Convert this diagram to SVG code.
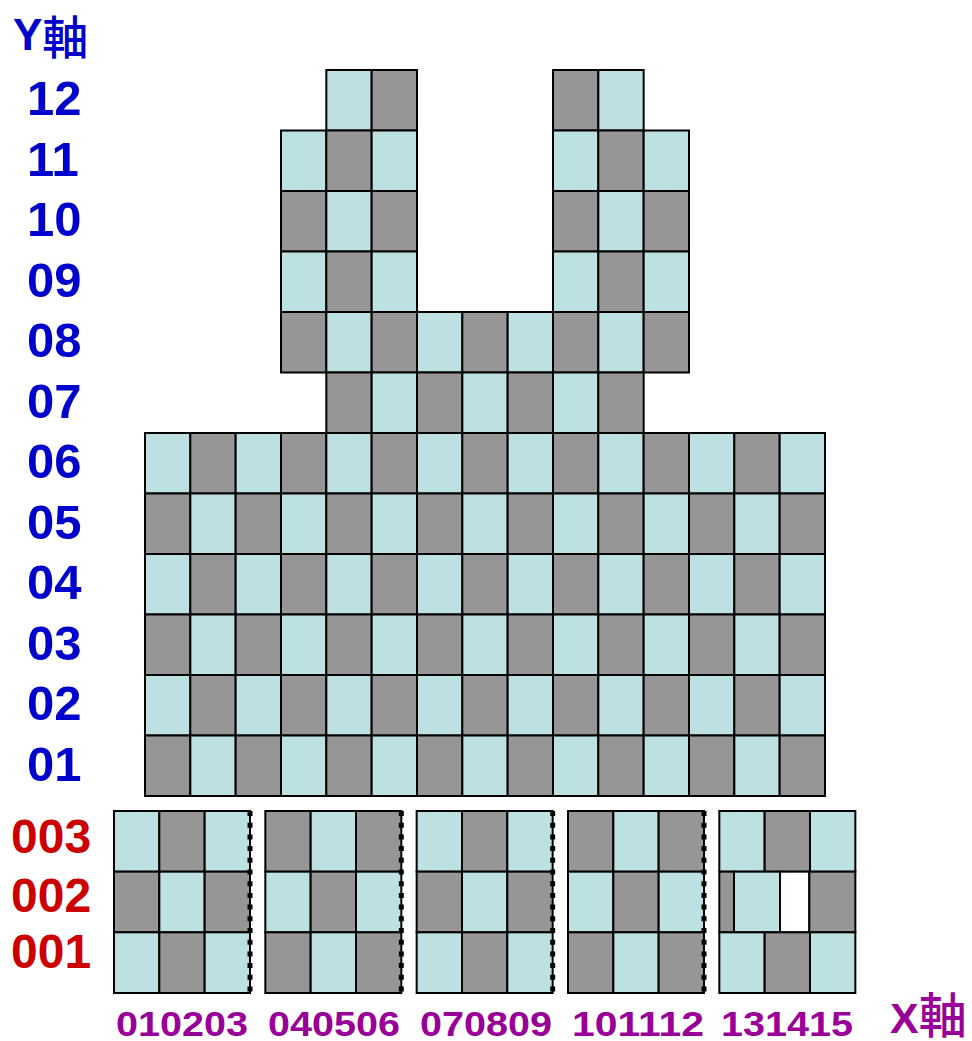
<svg xmlns="http://www.w3.org/2000/svg" xmlns:xlink="http://www.w3.org/1999/xlink" width="972" height="1041" viewBox="0 0 972 1041">
<style>
.l{fill:#bde0e3;stroke:#000;stroke-width:2}
.g{fill:#969696;stroke:#000;stroke-width:2}
.w{fill:#fff;stroke:#000;stroke-width:2}
.ylab{font-family:"Liberation Sans",Arial,sans-serif;font-weight:bold;font-size:49px;fill:#0000cc}
.rlab{font-family:"Liberation Sans",Arial,sans-serif;font-weight:bold;font-size:48px;fill:#cc0000}
.xlab{font-family:"Liberation Sans",Arial,sans-serif;font-weight:bold;font-size:35px;fill:#990099}
.cjk{font-family:"Noto Sans CJK TC","Noto Sans CJK SC",sans-serif;font-weight:500}
.dot{stroke:#000;stroke-width:5;stroke-dasharray:5 6.7;fill:none}
</style>
<defs>
<rect id="L" class="l" width="45.33" height="60.5"/>
<rect id="G" class="g" width="45.33" height="60.5"/>
<rect id="bL" class="l" width="45.33" height="60.67"/>
<rect id="bG" class="g" width="45.33" height="60.67"/>
</defs>

<g id="axis-labels">
<text class="ylab" x="13" y="50" style="font-size:44px">Y<tspan class="cjk" dy="4" style="font-size:46px">軸</tspan></text>
<text class="ylab" x="27" y="115">12</text>
<text class="ylab" x="27" y="175.5">11</text>
<text class="ylab" x="27" y="236">10</text>
<text class="ylab" x="27" y="296.5">09</text>
<text class="ylab" x="27" y="357">08</text>
<text class="ylab" x="27" y="417.5">07</text>
<text class="ylab" x="27" y="478">06</text>
<text class="ylab" x="27" y="538.5">05</text>
<text class="ylab" x="27" y="599">04</text>
<text class="ylab" x="27" y="659.5">03</text>
<text class="ylab" x="27" y="720">02</text>
<text class="ylab" x="27" y="780.5">01</text>
<text class="rlab" x="11" y="853">003</text>
<text class="rlab" x="11" y="912">002</text>
<text class="rlab" x="11" y="968">001</text>
<text class="xlab" x="116" y="1036" textLength="132" lengthAdjust="spacingAndGlyphs">010203</text>
<text class="xlab" x="268" y="1036" textLength="132" lengthAdjust="spacingAndGlyphs">040506</text>
<text class="xlab" x="420" y="1036" textLength="132" lengthAdjust="spacingAndGlyphs">070809</text>
<text class="xlab" x="572" y="1036" textLength="132" lengthAdjust="spacingAndGlyphs">101112</text>
<text class="xlab" x="721" y="1036" textLength="132" lengthAdjust="spacingAndGlyphs">131415</text>
<text class="xlab" x="890" y="1033" style="font-size:43px">X<tspan class="cjk" style="font-size:48px">軸</tspan></text>
</g>

<g id="row12">
<use href="#L" x="326.33" y="70"/><use href="#G" x="371.67" y="70"/>
<use href="#G" x="553" y="70"/><use href="#L" x="598.33" y="70"/>
</g>
<g id="row11">
<use href="#L" x="281" y="130.5"/><use href="#G" x="326.33" y="130.5"/><use href="#L" x="371.67" y="130.5"/>
<use href="#L" x="553" y="130.5"/><use href="#G" x="598.33" y="130.5"/><use href="#L" x="643.67" y="130.5"/>
</g>
<g id="row10">
<use href="#G" x="281" y="191"/><use href="#L" x="326.33" y="191"/><use href="#G" x="371.67" y="191"/>
<use href="#G" x="553" y="191"/><use href="#L" x="598.33" y="191"/><use href="#G" x="643.67" y="191"/>
</g>
<g id="row09">
<use href="#L" x="281" y="251.5"/><use href="#G" x="326.33" y="251.5"/><use href="#L" x="371.67" y="251.5"/>
<use href="#L" x="553" y="251.5"/><use href="#G" x="598.33" y="251.5"/><use href="#L" x="643.67" y="251.5"/>
</g>
<g id="row08">
<use href="#G" x="281" y="312"/><use href="#L" x="326.33" y="312"/><use href="#G" x="371.67" y="312"/>
<use href="#L" x="417" y="312"/><use href="#G" x="462.33" y="312"/><use href="#L" x="507.67" y="312"/>
<use href="#G" x="553" y="312"/><use href="#L" x="598.33" y="312"/><use href="#G" x="643.67" y="312"/>
</g>
<g id="row07">
<use href="#G" x="326.33" y="372.5"/><use href="#L" x="371.67" y="372.5"/><use href="#G" x="417" y="372.5"/>
<use href="#L" x="462.33" y="372.5"/><use href="#G" x="507.67" y="372.5"/><use href="#L" x="553" y="372.5"/>
<use href="#G" x="598.33" y="372.5"/>
</g>
<g id="row06">
<use href="#L" x="145" y="433"/><use href="#G" x="190.33" y="433"/><use href="#L" x="235.67" y="433"/>
<use href="#G" x="281" y="433"/><use href="#L" x="326.33" y="433"/><use href="#G" x="371.67" y="433"/>
<use href="#L" x="417" y="433"/><use href="#G" x="462.33" y="433"/><use href="#L" x="507.67" y="433"/>
<use href="#G" x="553" y="433"/><use href="#L" x="598.33" y="433"/><use href="#G" x="643.67" y="433"/>
<use href="#L" x="689" y="433"/><use href="#G" x="734.33" y="433"/><use href="#L" x="779.67" y="433"/>
</g>
<g id="row05">
<use href="#G" x="145" y="493.5"/><use href="#L" x="190.33" y="493.5"/><use href="#G" x="235.67" y="493.5"/>
<use href="#L" x="281" y="493.5"/><use href="#G" x="326.33" y="493.5"/><use href="#L" x="371.67" y="493.5"/>
<use href="#G" x="417" y="493.5"/><use href="#L" x="462.33" y="493.5"/><use href="#G" x="507.67" y="493.5"/>
<use href="#L" x="553" y="493.5"/><use href="#G" x="598.33" y="493.5"/><use href="#L" x="643.67" y="493.5"/>
<use href="#G" x="689" y="493.5"/><use href="#L" x="734.33" y="493.5"/><use href="#G" x="779.67" y="493.5"/>
</g>
<g id="row04">
<use href="#L" x="145" y="554"/><use href="#G" x="190.33" y="554"/><use href="#L" x="235.67" y="554"/>
<use href="#G" x="281" y="554"/><use href="#L" x="326.33" y="554"/><use href="#G" x="371.67" y="554"/>
<use href="#L" x="417" y="554"/><use href="#G" x="462.33" y="554"/><use href="#L" x="507.67" y="554"/>
<use href="#G" x="553" y="554"/><use href="#L" x="598.33" y="554"/><use href="#G" x="643.67" y="554"/>
<use href="#L" x="689" y="554"/><use href="#G" x="734.33" y="554"/><use href="#L" x="779.67" y="554"/>
</g>
<g id="row03">
<use href="#G" x="145" y="614.5"/><use href="#L" x="190.33" y="614.5"/><use href="#G" x="235.67" y="614.5"/>
<use href="#L" x="281" y="614.5"/><use href="#G" x="326.33" y="614.5"/><use href="#L" x="371.67" y="614.5"/>
<use href="#G" x="417" y="614.5"/><use href="#L" x="462.33" y="614.5"/><use href="#G" x="507.67" y="614.5"/>
<use href="#L" x="553" y="614.5"/><use href="#G" x="598.33" y="614.5"/><use href="#L" x="643.67" y="614.5"/>
<use href="#G" x="689" y="614.5"/><use href="#L" x="734.33" y="614.5"/><use href="#G" x="779.67" y="614.5"/>
</g>
<g id="row02">
<use href="#L" x="145" y="675"/><use href="#G" x="190.33" y="675"/><use href="#L" x="235.67" y="675"/>
<use href="#G" x="281" y="675"/><use href="#L" x="326.33" y="675"/><use href="#G" x="371.67" y="675"/>
<use href="#L" x="417" y="675"/><use href="#G" x="462.33" y="675"/><use href="#L" x="507.67" y="675"/>
<use href="#G" x="553" y="675"/><use href="#L" x="598.33" y="675"/><use href="#G" x="643.67" y="675"/>
<use href="#L" x="689" y="675"/><use href="#G" x="734.33" y="675"/><use href="#L" x="779.67" y="675"/>
</g>
<g id="row01">
<use href="#G" x="145" y="735.5"/><use href="#L" x="190.33" y="735.5"/><use href="#G" x="235.67" y="735.5"/>
<use href="#L" x="281" y="735.5"/><use href="#G" x="326.33" y="735.5"/><use href="#L" x="371.67" y="735.5"/>
<use href="#G" x="417" y="735.5"/><use href="#L" x="462.33" y="735.5"/><use href="#G" x="507.67" y="735.5"/>
<use href="#L" x="553" y="735.5"/><use href="#G" x="598.33" y="735.5"/><use href="#L" x="643.67" y="735.5"/>
<use href="#G" x="689" y="735.5"/><use href="#L" x="734.33" y="735.5"/><use href="#G" x="779.67" y="735.5"/>
</g>

<g id="block1">
<use href="#bL" x="114" y="811"/><use href="#bG" x="159.33" y="811"/><use href="#bL" x="204.67" y="811"/>
<use href="#bG" x="114" y="871.67"/><use href="#bL" x="159.33" y="871.67"/><use href="#bG" x="204.67" y="871.67"/>
<use href="#bL" x="114" y="932.33"/><use href="#bG" x="159.33" y="932.33"/><use href="#bL" x="204.67" y="932.33"/>
<line class="dot" x1="250" y1="811" x2="250" y2="993"/>
</g>
<g id="block2">
<use href="#bG" x="265.33" y="811"/><use href="#bL" x="310.67" y="811"/><use href="#bG" x="356" y="811"/>
<use href="#bL" x="265.33" y="871.67"/><use href="#bG" x="310.67" y="871.67"/><use href="#bL" x="356" y="871.67"/>
<use href="#bG" x="265.33" y="932.33"/><use href="#bL" x="310.67" y="932.33"/><use href="#bG" x="356" y="932.33"/>
<line class="dot" x1="401.33" y1="811" x2="401.33" y2="993"/>
</g>
<g id="block3">
<use href="#bL" x="416.67" y="811"/><use href="#bG" x="462" y="811"/><use href="#bL" x="507.33" y="811"/>
<use href="#bG" x="416.67" y="871.67"/><use href="#bL" x="462" y="871.67"/><use href="#bG" x="507.33" y="871.67"/>
<use href="#bL" x="416.67" y="932.33"/><use href="#bG" x="462" y="932.33"/><use href="#bL" x="507.33" y="932.33"/>
<line class="dot" x1="552.67" y1="811" x2="552.67" y2="993"/>
</g>
<g id="block4">
<use href="#bG" x="568" y="811"/><use href="#bL" x="613.33" y="811"/><use href="#bG" x="658.67" y="811"/>
<use href="#bL" x="568" y="871.67"/><use href="#bG" x="613.33" y="871.67"/><use href="#bL" x="658.67" y="871.67"/>
<use href="#bG" x="568" y="932.33"/><use href="#bL" x="613.33" y="932.33"/><use href="#bG" x="658.67" y="932.33"/>
<line class="dot" x1="704" y1="811" x2="704" y2="993"/>
</g>
<g id="block5">
<use href="#bL" x="719.33" y="811"/><use href="#bG" x="764.67" y="811"/><use href="#bL" x="810" y="811"/>
<rect class="g" x="719.33" y="871.67" width="14.67" height="60.67"/>
<rect class="l" x="734" y="871.67" width="46" height="60.67"/>
<rect class="w" x="780" y="871.67" width="29.33" height="60.67"/>
<rect class="g" x="809.33" y="871.67" width="46" height="60.67"/>
<use href="#bL" x="719.33" y="932.33"/><use href="#bG" x="764.67" y="932.33"/><use href="#bL" x="810" y="932.33"/>
</g>
</svg>
